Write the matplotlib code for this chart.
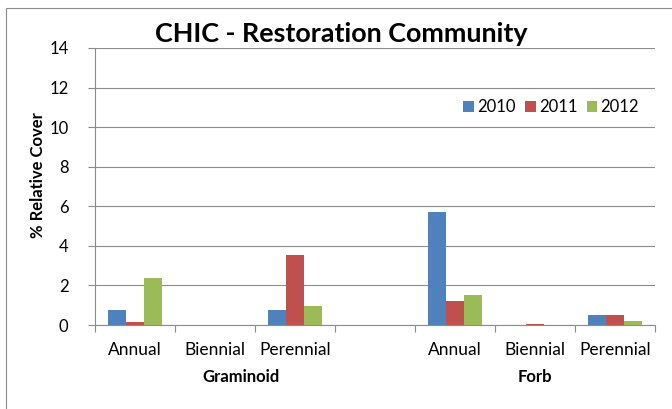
import matplotlib
matplotlib.use("Agg")
import matplotlib.pyplot as plt
import numpy as np
from matplotlib.patches import Rectangle

categories = ["Annual", "Biennial", "Perennial", "", "Annual", "Biennial", "Perennial"]
years = ["2010", "2011", "2012"]
v2010 = [0.76, 0, 0.74, 0, 5.7, 0, 0.49]
v2011 = [0.15, 0, 3.54, 0, 1.21, 0.03, 0.50]
v2012 = [2.37, 0, 0.94, 0, 1.53, 0, 0.20]
groups = ["Graminoid", "Forb"]
colors = ["#4F81BD", "#C0504D", "#9BBB59"]

plt.rcParams['font.family'] = ['Lato', 'DejaVu Sans']

fig = plt.figure(figsize=(6.72, 4.09), dpi=100)
fig.patches.append(Rectangle((6/672, -0.1), 1.2, 1 - 8/409 + 0.1, transform=fig.transFigure,
                             fill=False, edgecolor="#8C8C8C", linewidth=0.8))
ax = fig.add_axes([95/672, 1 - 325/409, 560/672, (325 - 48)/409])

x = np.arange(len(categories))
w = 0.225
for i, (vals, c, yr) in enumerate(zip([v2010, v2011, v2012], colors, years)):
    ax.bar(x + (i - 1) * w, vals, width=w, color=c, label=yr, zorder=3)

ax.set_xlim(-0.5, len(categories) - 0.5)
ax.set_ylim(0, 14)
ax.set_yticks(np.arange(0, 15, 2))
ax.yaxis.grid(True, color="#8C8C8C", linewidth=0.8, zorder=0)
ax.set_xticks(x)
ax.set_xticklabels(categories, fontsize=12.5)
ax.tick_params(axis='x', length=0, pad=12)
ax.set_xticks(np.arange(-0.5, len(categories), 1), minor=True)
ax.tick_params(axis='x', which='minor', length=5, color="#8C8C8C", width=0.8)
ax.tick_params(axis='y', length=5, color="#8C8C8C", width=0.8, labelsize=12, pad=14)
for s in ["top", "right"]:
    ax.spines[s].set_visible(False)
for s in ["left", "bottom"]:
    ax.spines[s].set_color("#8C8C8C")
    ax.spines[s].set_linewidth(0.8)

ax.text(1.33, -0.188, groups[0], transform=ax.get_xaxis_transform(), ha="center", va="center",
        fontsize=12, fontweight="bold")
ax.text(5.0, -0.188, groups[1], transform=ax.get_xaxis_transform(), ha="center", va="center",
        fontsize=12, fontweight="bold")
ax.text((38 - 95)/560, (325 - 175)/277, "% Relative Cover", transform=ax.transAxes, rotation=90,
        ha="center", va="center", fontsize=12, fontweight="bold")

fig.text(341/672, 1 - 34/409, "CHIC - Restoration Community", ha="center", va="center",
         fontsize=19.4, fontweight="bold")

ax.legend(loc="center", bbox_to_anchor=((551 - 95)/560, (325 - 107)/277), ncol=3, frameon=False,
          fontsize=12, handlelength=0.65, handleheight=0.65, handletextpad=0.2, columnspacing=0.55)

fig.savefig("out.png", dpi=100)
